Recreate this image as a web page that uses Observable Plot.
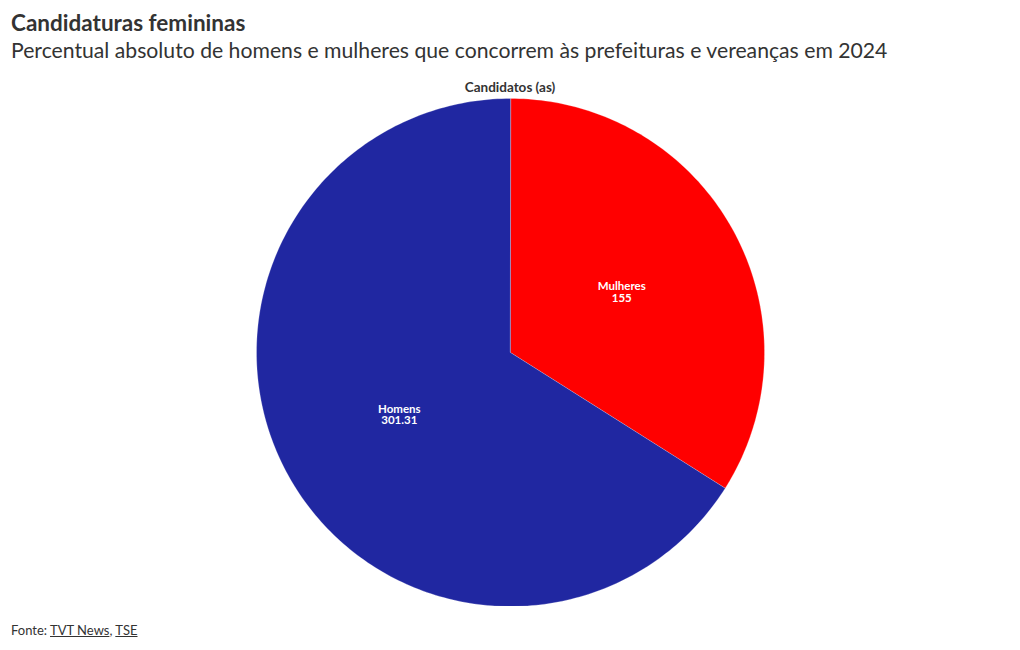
<!DOCTYPE html>
<html>
<head>
<meta charset="utf-8">
<script src="https://cdn.jsdelivr.net/npm/d3@7"></script>
<script src="https://cdn.jsdelivr.net/npm/@observablehq/plot@0.6"></script>
<style>
  html, body { margin: 0; padding: 0; background: #fff; }
  body { width: 1020px; height: 650px; position: relative; font-family: Lato, "Source Sans Pro", sans-serif; color: #333; overflow: hidden; }
  #title { position: absolute; left: 11px; top: 9px; font-size: 22.5px; font-weight: 700; color: #333; white-space: nowrap; }
  #subtitle { position: absolute; left: 11px; top: 37px; font-size: 21.2px; font-weight: 400; color: #333; white-space: nowrap; }
  #label { position: absolute; left: 0; width: 1020px; top: 79px; text-align: center; font-size: 13.5px; font-weight: 700; color: #333; }
  #chart { position: absolute; left: 0; top: 98px; }
  #footer { position: absolute; left: 11px; top: 622px; font-size: 13px; color: #333; }
  #footer a { color: #333; text-decoration: underline; }
</style>
</head>
<body>
<div id="title">Candidaturas femininas</div>
<div id="subtitle">Percentual absoluto de homens e mulheres que concorrem às prefeituras e vereanças em 2024</div>
<div id="label">Candidatos (as)</div>
<div id="chart"></div>
<div id="footer">Fonte: <a>TVT News</a>, <a>TSE</a></div>
<script>
const categories = ["Mulheres", "Homens"];
const values = [155, 301.31];
const valueLabels = ["155", "301.31"];
const colors = ["#ff0000", "#2027a1"];

const rows = categories.map((c, i) => ({category: c, value: values[i], label: valueLabels[i]}));
const arcs = d3.pie().sort(null).value(d => d.value)(rows);

function slicePolygon(a) {
  const pts = [[0, 0]];
  const n = Math.max(2, Math.ceil((a.endAngle - a.startAngle) / (Math.PI / 180)));
  for (let k = 0; k <= n; k++) {
    const t = a.startAngle + (a.endAngle - a.startAngle) * k / n;
    pts.push([Math.sin(t), Math.cos(t)]);
  }
  pts.push([0, 0]);
  return {type: "Feature", properties: {category: a.data.category}, geometry: {type: "Polygon", coordinates: [pts]}};
}
const features = arcs.map(slicePolygon);
const labelRows = arcs.map(a => {
  const m = (a.startAngle + a.endAngle) / 2;
  return {x: 0.5 * Math.sin(m), y: 0.5 * Math.cos(m), text: a.data.category + "\n" + a.data.label};
});

const chart = Plot.plot({
  width: 1020,
  height: 508,
  margin: 0,
  projection: {type: "reflect-y", domain: {type: "MultiPoint", coordinates: [[-1, -1], [1, 1]]}},
  color: {domain: categories, range: colors},
  marks: [
    Plot.geo(features, {fill: d => d.properties.category, stroke: "white", strokeWidth: 0.4, strokeOpacity: 0.6}),
    Plot.text(labelRows, {x: "x", y: "y", dy: 1, text: "text", fill: "white", fontSize: 11.5, fontWeight: 700, lineHeight: 1.0, fontFamily: "Lato, sans-serif"})
  ]
});
document.getElementById("chart").appendChild(chart);
</script>
</body>
</html>
